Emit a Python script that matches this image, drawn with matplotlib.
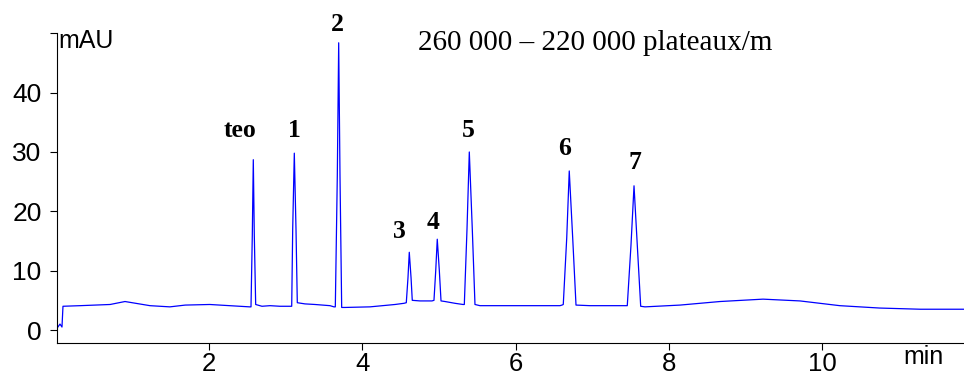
import matplotlib.pyplot as plt

# trace (min, mAU)
tiempo = [0.017, 0.056, 0.082, 0.095, 0.317, 0.71, 0.904, 1.23, 1.49, 1.69, 2.01, 2.53,
          2.548, 2.565, 2.578, 2.591, 2.609,
          2.691, 2.796, 2.926, 3.057,
          3.079, 3.092, 3.113, 3.135, 3.152,
          3.252, 3.383, 3.579, 3.63,
          3.648, 3.674, 3.692, 3.709, 3.731,
          3.774, 4.10, 4.427, 4.544,
          4.574, 4.596, 4.613, 4.636, 4.652,
          4.753, 4.909,
          4.935, 4.958, 4.978, 5.005, 5.027,
          5.079, 5.209, 5.314,
          5.331, 5.366, 5.396, 5.435, 5.47,
          5.535, 6.057, 6.579, 6.605,
          6.622, 6.667, 6.70, 6.745, 6.788,
          6.971, 7.232, 7.428,
          7.457, 7.505, 7.545, 7.588, 7.632,
          7.688, 8.145, 8.667, 9.228, 9.71, 10.23, 10.75, 11.28, 11.85]
senal = [0.3, 1.0, 0.5, 4.0, 4.1, 4.3, 4.8, 4.1, 3.9, 4.2, 4.3, 3.9,
         3.9, 16.0, 28.7, 16.0, 4.3,
         4.0, 4.1, 4.0, 4.0,
         4.0, 17.0, 29.8, 17.0, 4.6,
         4.4, 4.3, 4.1, 3.9,
         3.9, 26.0, 48.4, 26.0, 3.8,
         3.8, 3.9, 4.3, 4.5,
         4.6, 8.8, 13.1, 8.8, 5.0,
         4.9, 4.9,
         5.0, 10.0, 15.3, 10.0, 4.9,
         4.8, 4.5, 4.3,
         4.3, 17.0, 30.0, 17.0, 4.3,
         4.1, 4.1, 4.1, 4.2,
         4.3, 15.5, 26.8, 15.5, 4.2,
         4.1, 4.1, 4.1,
         4.1, 14.2, 24.3, 14.2, 4.0,
         3.9, 4.2, 4.8, 5.2, 4.9, 4.1, 3.7, 3.5, 3.5]

etiquetas = ["teo", "1", "2", "3", "4", "5", "6", "7"]
etiq_t = [2.404, 3.109, 3.674, 4.479, 4.926, 5.383, 6.645, 7.558]
etiq_y = [32.5, 32.5, 50.4, 15.5, 17.0, 32.5, 29.5, 27.1]

fig = plt.figure(figsize=(9.64, 3.78), dpi=100)
ax = fig.add_axes([57 / 964, 35 / 378, 907 / 964, 310.3 / 378])
ax.plot(tiempo, senal, color="#0000ff", lw=0.9)

ax.set_xlim(0.017, 11.85)
ax.set_ylim(-2.19, 50.1)
ax.set_xticks([2, 4, 6, 8, 10])
ax.set_yticks([0, 10, 20, 30, 40, 50])
ax.set_yticklabels(["0", "10", "20", "30", "40", ""])
for s in ("top", "right"):
    ax.spines[s].set_visible(False)
ax.tick_params(direction="out", length=5, width=0.8, labelsize=19)
ax.tick_params(axis="y", pad=6)
ax.tick_params(axis="x", pad=1.5, labelsize=18.5)
for lab in ax.get_xticklabels() + ax.get_yticklabels():
    lab.set_family("Liberation Sans")

for txt, t, y in zip(etiquetas, etiq_t, etiq_y):
    ax.text(t, y, txt, ha="center", va="baseline", fontsize=18.5,
            fontweight="bold", family="Liberation Serif", clip_on=False)

fig.text(0.060, 0.873, "mAU", fontsize=18, family="Liberation Sans", va="baseline")
fig.text(0.937, 0.037, "min", fontsize=18, family="Liberation Sans", va="baseline")
fig.text(0.617, 0.868, "260 000 \u2013 220 000 plateaux/m", fontsize=21,
         family="Liberation Serif", ha="center", va="baseline")

fig.savefig("out.png", dpi=100)
